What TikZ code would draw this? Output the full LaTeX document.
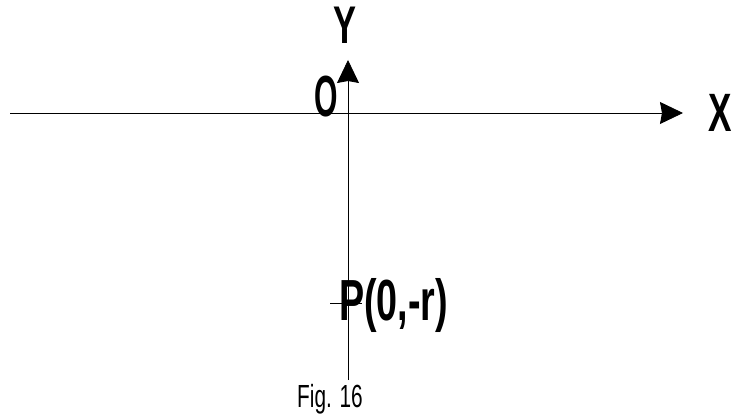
\documentclass[tikz,border=0pt]{standalone}
\usepackage{fontspec}
\newfontfamily\lblfont[FakeStretch=0.65]{Liberation Sans}
\usetikzlibrary{arrows.meta}
\begin{document}
\begin{tikzpicture}[x=1pt,y=-1pt,
  axis/.style={line width=0.8pt,-{Stealth[length=23pt,width=22pt,inset=2pt]}},
  biglbl/.style={inner sep=0pt,font=\lblfont\bfseries\fontsize{#1}{#1}\selectfont},
  caplbl/.style={inner sep=0pt,font=\lblfont\fontsize{32}{32}\selectfont}]
\useasboundingbox (0,0) rectangle (733,419);
\coordinate (xl) at (10,113);
\coordinate (xr) at (683,113);
\coordinate (yb) at (348,380);
\coordinate (yt) at (348,60);
\coordinate (tl) at (330,303);
\coordinate (tr) at (362,303);
\draw[axis] (xl) -- (xr);
\draw[axis] (yb) -- (yt);
\draw[line width=0.8pt] (tl) -- (tr);
\node[biglbl=53,anchor=base] (ylab) at (345,44) {Y};
\node[biglbl=58,anchor=base] (olab) at (326,117) {\scalebox{0.8}[1]{O}};
\node[biglbl=54,anchor=base west] (xlab) at (708,132) {X};
\node[biglbl=58,anchor=base west] (plab) at (339,320) {P(0,-r)};
\node[caplbl,anchor=base west] (cap) at (297,407) {Fig. 16};
\end{tikzpicture}
\end{document}
